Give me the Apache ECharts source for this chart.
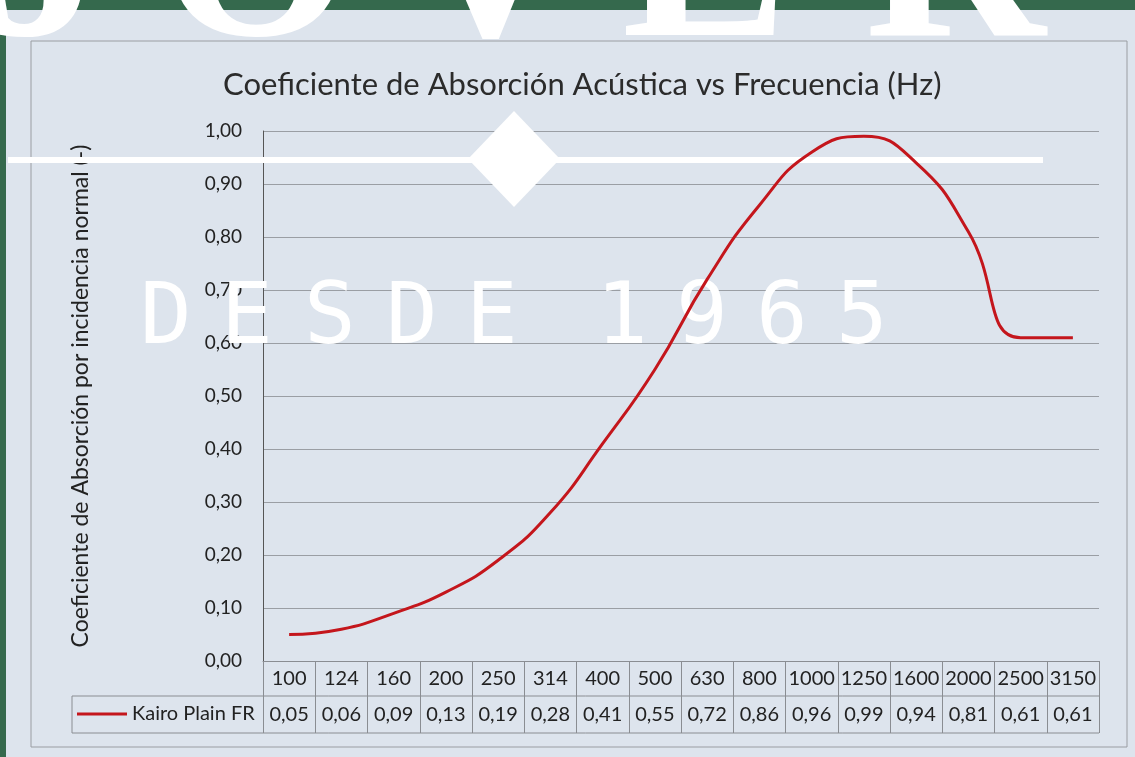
<!DOCTYPE html>
<html>
<head>
<meta charset="utf-8">
<title>Coeficiente de Absorción</title>
<script src="https://cdn.jsdelivr.net/npm/echarts@6/dist/echarts.min.js"></script>
<style>
  html, body { margin: 0; padding: 0; background: #dde4ed; }
  #main { width: 1135px; height: 757px; }
</style>
</head>
<body>
<div id="main"></div>
<script>
const frequencies = ['100', '124', '160', '200', '250', '314', '400', '500', '630', '800',
  '1000', '1250', '1600', '2000', '2500', '3150'];
const absorption = [0.05, 0.06, 0.09, 0.13, 0.19, 0.28, 0.41, 0.55, 0.72, 0.86,
  0.96, 0.99, 0.94, 0.81, 0.61, 0.61];
const seriesName = 'Kairo Plain FR';
const brandLetters = ['J', 'O', 'V', 'E', 'R'];
const sloganChars = ['D', 'E', 'S', 'D', 'E', '1', '9', '6', '5'];

// formato con coma decimal
function fmt(v) {
  return v.toFixed(2).replace('.', ',');
}

// geometria de la tabla (px)
const gLeft = 263, gRight = 1099, gTop = 131, gBottom = 661;
const rowMid = 696, rowEnd = 733, tableLeft = 72;
const tableColor = '#8a8d92';

const chart = echarts.init(document.getElementById('main'));

// marca de agua
const brandX = [45, 256, 490, 705, 955];
const sloganX = [166, 247, 330, 412, 492, 622, 702, 782, 862];
const watermark = [];
watermark.push({
  type: 'rect', z: 0, silent: true,
  shape: { x: 0, y: 0, width: 1135, height: 10 },
  style: { fill: '#35694d' }
});
watermark.push({
  type: 'rect', z: 0, silent: true,
  shape: { x: 0, y: 0, width: 6, height: 757 },
  style: { fill: '#35694d' }
});
brandLetters.forEach(function (ch, i) {
  watermark.push({
    type: 'text', z: 1, silent: true,
    x: brandX[i], y: -30,
    style: {
      text: ch, fill: '#ffffff',
      font: 'bold 250px "Liberation Serif"',
      textAlign: 'center', textVerticalAlign: 'middle'
    }
  });
});
watermark.push({
  type: 'rect', z: 1, silent: true,
  shape: { x: 8, y: 157, width: 1035, height: 6 },
  style: { fill: '#ffffff' }
});
watermark.push({
  type: 'polygon', z: 1, silent: true,
  shape: { points: [[514, 111], [560, 159], [514, 207], [468, 159]] },
  style: { fill: '#ffffff' }
});
sloganChars.forEach(function (ch, i) {
  watermark.push({
    type: 'text', z: 1, silent: true,
    x: sloganX[i], y: 321,
    style: {
      text: ch, fill: '#ffffff',
      font: '86px "DejaVu Sans Mono"',
      textAlign: 'center', textVerticalAlign: 'middle'
    }
  });
});

// bordes de la tabla y del grafico
const frame = [
  {
    type: 'rect', z: 0, silent: true,
    shape: { x: 31, y: 41, width: 1096, height: 706 },
    style: { fill: 'none', stroke: '#9a9da2', lineWidth: 1 }
  },
  {
    type: 'line', z: 0, silent: true,
    shape: { x1: tableLeft, y1: rowMid, x2: gRight, y2: rowMid },
    style: { stroke: tableColor, lineWidth: 1 }
  },
  {
    type: 'line', z: 0, silent: true,
    shape: { x1: tableLeft, y1: rowEnd, x2: gRight, y2: rowEnd },
    style: { stroke: tableColor, lineWidth: 1 }
  },
  {
    type: 'line', z: 0, silent: true,
    shape: { x1: tableLeft, y1: rowMid, x2: tableLeft, y2: rowEnd },
    style: { stroke: tableColor, lineWidth: 1 }
  }
];

const option = {
  backgroundColor: '#dde4ed',
  textStyle: { fontFamily: 'Lato' },
  animation: false,
  title: {
    text: 'Coeficiente de Absorción Acústica vs Frecuencia (Hz)',
    left: 218,
    top: 64,
    textStyle: { fontSize: 31, fontWeight: 'normal', color: '#2b2b2b', fontFamily: 'Lato' }
  },
  legend: {
    data: [seriesName],
    left: 77,
    top: 704,
    padding: 0,
    icon: 'rect',
    itemWidth: 50,
    itemHeight: 3,
    itemGap: 5,
    selectedMode: false,
    textStyle: { fontSize: 20, color: '#222', fontFamily: 'Lato' }
  },
  grid: {
    left: gLeft,
    right: 1135 - gRight,
    top: gTop,
    bottom: 757 - gBottom
  },
  xAxis: {
    type: 'category',
    data: frequencies,
    boundaryGap: true,
    axisLine: { lineStyle: { color: tableColor, width: 1 } },
    axisTick: { show: true, interval: 0, length: rowEnd - gBottom, lineStyle: { color: tableColor } },
    axisLabel: {
      interval: 0,
      margin: 0,
      formatter: function (v, i) {
        return '{f|' + v + '}\n{v|' + fmt(absorption[i]) + '}';
      },
      rich: {
        f: { fontSize: 20, lineHeight: 35, color: '#222', fontFamily: 'Lato' },
        v: { fontSize: 20, lineHeight: 37, color: '#222', fontFamily: 'Lato' }
      }
    }
  },
  yAxis: {
    type: 'value',
    min: 0,
    max: 1,
    interval: 0.1,
    name: 'Coeficiente de Absorción por incidencia normal (-)',
    nameLocation: 'middle',
    nameGap: 171,
    nameTextStyle: { fontSize: 23, color: '#222', fontFamily: 'Lato' },
    axisLine: { show: true, lineStyle: { color: '#555', width: 1 } },
    axisTick: { show: false },
    axisLabel: {
      margin: 21,
      fontSize: 19,
      color: '#222',
      formatter: function (v) { return fmt(v); }
    },
    splitLine: { lineStyle: { color: '#9a9ea4', width: 1 } }
  },
  graphic: { elements: frame.concat(watermark) },
  series: [{
    name: seriesName,
    type: 'line',
    data: absorption,
    smooth: 0.5,
    symbol: 'none',
    color: '#c4161c',
    lineStyle: { color: '#c4161c', width: 3 },
    z: 3
  }]
};

chart.setOption(option);
</script>
</body>
</html>
